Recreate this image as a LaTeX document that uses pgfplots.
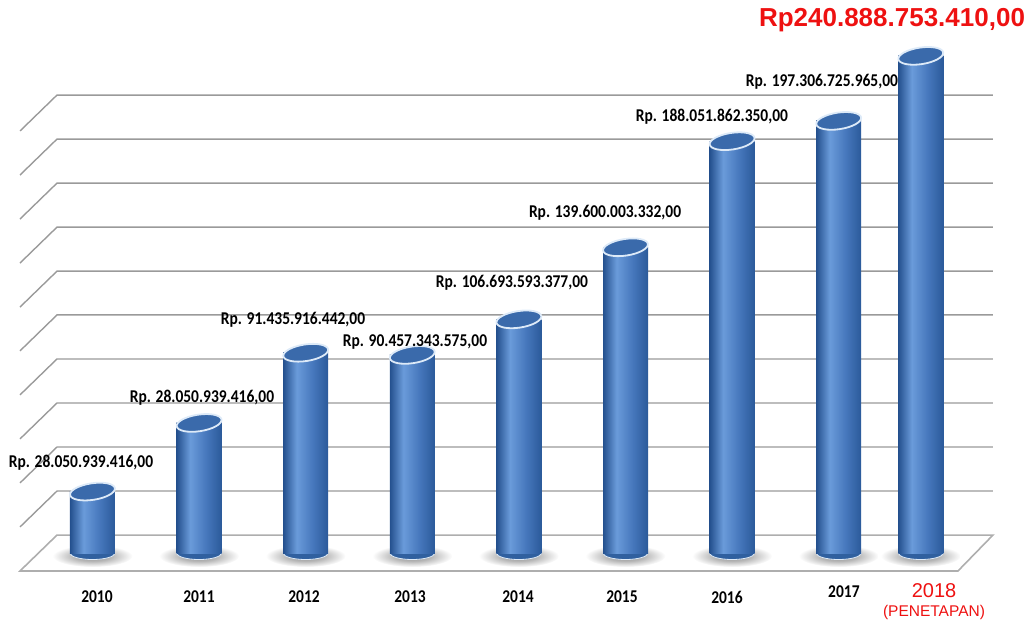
\documentclass[border=0pt]{standalone}
\usepackage{fontspec}
\usepackage{pgfplots}
\pgfplotsset{compat=1.18}
\newfontfamily\lblfont[FakeStretch=0.86]{Carlito}
\newfontfamily\arialfont{Liberation Sans}
\definecolor{cylA}{HTML}{24508E}
\definecolor{cylB}{HTML}{4677BC}
\definecolor{cylC}{HTML}{6A9BDA}
\definecolor{cylD}{HTML}{2B5A9A}
\definecolor{cyltopfill}{HTML}{3A6AAB}
\definecolor{cylrim}{HTML}{DDEAF8}
\definecolor{cylbot}{HTML}{30609F}
\definecolor{gridgray}{HTML}{9A9A9A}
\definecolor{redlbl}{HTML}{EE1111}
\pgfdeclarehorizontalshading{cyl}{100bp}{color(0bp)=(cylA); color(25bp)=(cylA); color(40bp)=(cylC); color(58bp)=(cylB); color(75bp)=(cylD); color(100bp)=(cylD)}
\pgfdeclareradialshading{flrshadow}{\pgfpoint{0bp}{0bp}}{color(0bp)=(black!45); color(12bp)=(black!28); color(25bp)=(white); color(50bp)=(white)}
\pgfdeclareplotmark{cyltop}{%
  \pgfpathellipse{\pgfpointorigin}{\pgfpoint{22.4pt}{3.4pt}}{\pgfpoint{-1.3pt}{8.2pt}}%
  \pgfusepathqfillstroke}
\pgfdeclareplotmark{cylbottom}{%
  \pgfpathellipse{\pgfpointorigin}{\pgfpoint{22.5pt}{0pt}}{\pgfpoint{0pt}{6.5pt}}%
  \pgfusepathqfillstroke}
\pgfdeclareplotmark{floorshadow}{%
  \pgfpathellipse{\pgfpoint{0pt}{-3pt}}{\pgfpoint{40pt}{0pt}}{\pgfpoint{0pt}{11pt}}%
  \pgfshadepath{flrshadow}{0}\pgfusepath{}}
\pgfplotsset{cylbody/.style={ybar, bar width=45pt, draw=none, shade, shading=cyl, on layer=axis lines}}
\begin{document}
\begin{tikzpicture}
\begin{axis}[at={(0,0)}, anchor=south west, scale only axis,
  width=1035pt, height=625pt,
  xmin=-0.8677, xmax=8.8415, ymin=-32.88, ymax=252.51,
  axis line style={draw=none}, xtick=\empty, ytick=\empty,
  clip=false, set layers=standard, mark layer=like plot]
% shadows on floor
\addplot[only marks, mark=floorshadow, on layer=axis background] coordinates {(0,0) (1,0) (2,0) (3,0) (4,0) (5,0) (6,0) (7,0) (7.77,0)};
% floor
\addplot[draw=gridgray!80, line width=1.6pt, on layer=axis grid] coordinates {(-0.333,8.2) (8.447,8.2) (8.119,-8.2) (-0.680,-8.2)} -- cycle;
% back-wall grid lines with left stubs
\addplot[gridgray, line width=1.4pt, on layer=axis grid] coordinates {(-0.680,11.9) (-0.333,28.3) (8.447,28.3)};
\addplot[gridgray, line width=1.4pt, on layer=axis grid] coordinates {(-0.680,32.0) (-0.333,48.4) (8.447,48.4)};
\addplot[gridgray, line width=1.4pt, on layer=axis grid] coordinates {(-0.680,52.1) (-0.333,68.5) (8.447,68.5)};
\addplot[gridgray, line width=1.4pt, on layer=axis grid] coordinates {(-0.680,72.2) (-0.333,88.6) (8.447,88.6)};
\addplot[gridgray, line width=1.4pt, on layer=axis grid] coordinates {(-0.680,92.3) (-0.333,108.7) (8.447,108.7)};
\addplot[gridgray, line width=1.4pt, on layer=axis grid] coordinates {(-0.680,112.3) (-0.333,128.7) (8.447,128.7)};
\addplot[gridgray, line width=1.4pt, on layer=axis grid] coordinates {(-0.680,132.4) (-0.333,148.8) (8.447,148.8)};
\addplot[gridgray, line width=1.4pt, on layer=axis grid] coordinates {(-0.680,152.5) (-0.333,168.9) (8.447,168.9)};
\addplot[gridgray, line width=1.4pt, on layer=axis grid] coordinates {(-0.680,172.6) (-0.333,189.0) (8.447,189.0)};
\addplot[gridgray, line width=1.4pt, on layer=axis grid] coordinates {(-0.680,192.7) (-0.333,209.1) (8.447,209.1)};
% cylinder bottoms
\addplot[only marks, mark=cylbottom, mark options={fill=cylbot, draw=cylrim, line width=0.8pt}, on layer=axis ticks] coordinates {(0,0) (1,0) (2,0) (3,0) (4,0) (5,0) (6,0) (7,0) (7.77,0)};
% cylinder bodies (one per bar so each gets its own shading)
\addplot[cylbody] coordinates {(0,28.05)};
\addplot[cylbody] coordinates {(1,59.4)};
\addplot[cylbody] coordinates {(2,91.44)};
\addplot[cylbody] coordinates {(3,90.46)};
\addplot[cylbody] coordinates {(4,106.69)};
\addplot[cylbody] coordinates {(5,139.60)};
\addplot[cylbody] coordinates {(6,188.05)};
\addplot[cylbody] coordinates {(7,197.31)};
\addplot[cylbody] coordinates {(7.77,227.0)};
% cylinder tops
\addplot[only marks, mark=cyltop, mark options={fill=cyltopfill, draw=cylrim, line width=1.8pt}, on layer=axis tick labels] coordinates {
  (0,28.05) (1,59.4) (2,91.44) (3,90.46) (4,106.69) (5,139.60) (6,188.05) (7,197.31) (7.77,227.0)};
% value labels
\addplot[only marks, mark=none, point meta=explicit symbolic, nodes near coords, on layer=main,
  nodes near coords style={anchor=center, text=black, font=\lblfont\bfseries\fontsize{18}{20}\selectfont}]
  coordinates {
  (-0.108,41.1) [Rp. 28.050.939.416,00]
  (1.027,70.8) [Rp. 28.050.939.416,00]
  (1.881,106.4) [Rp. 91.435.916.442,00]
  (3.025,96.3) [Rp. 90.457.343.575,00]
  (3.935,123.3) [Rp. 106.693.593.377,00]
  (4.808,155.3) [Rp. 139.600.003.332,00]
  (5.811,199.1) [Rp. 188.051.862.350,00]
  (6.843,215.1) [Rp. 197.306.725.965,00]
  };
\addplot[only marks, mark=none, point meta=explicit symbolic, nodes near coords, on layer=main,
  nodes near coords style={anchor=center, text=redlbl, font=\arialfont\bfseries\fontsize{26}{28}\selectfont}]
  coordinates {(7.500,243.4) [Rp240.888.753.410,00]};
% year labels
\addplot[only marks, mark=none, point meta=explicit symbolic, nodes near coords, on layer=main,
  nodes near coords style={anchor=center, text=black, font=\lblfont\bfseries\fontsize{18}{20}\selectfont}]
  coordinates {
  (0.042,-20.1) [2010]
  (0.999,-20.1) [2011]
  (1.984,-20.1) [2012]
  (2.979,-20.1) [2013]
  (3.992,-20.1) [2014]
  (4.967,-20.1) [2015]
  (5.952,-20.1) [2016]
  (7.049,-17.8) [2017]
  };
\addplot[only marks, mark=none, point meta=explicit symbolic, nodes near coords, on layer=main,
  nodes near coords style={anchor=center, text=redlbl, font=\arialfont\fontsize{20}{22}\selectfont}]
  coordinates {(7.894,-17.3) [2018]};
\addplot[only marks, mark=none, point meta=explicit symbolic, nodes near coords, on layer=main,
  nodes near coords style={anchor=center, text=redlbl, font=\arialfont\fontsize{15.5}{17}\selectfont}]
  coordinates {(7.894,-27.2) [(PENETAPAN)]};
\end{axis}
\end{tikzpicture}
\end{document}
